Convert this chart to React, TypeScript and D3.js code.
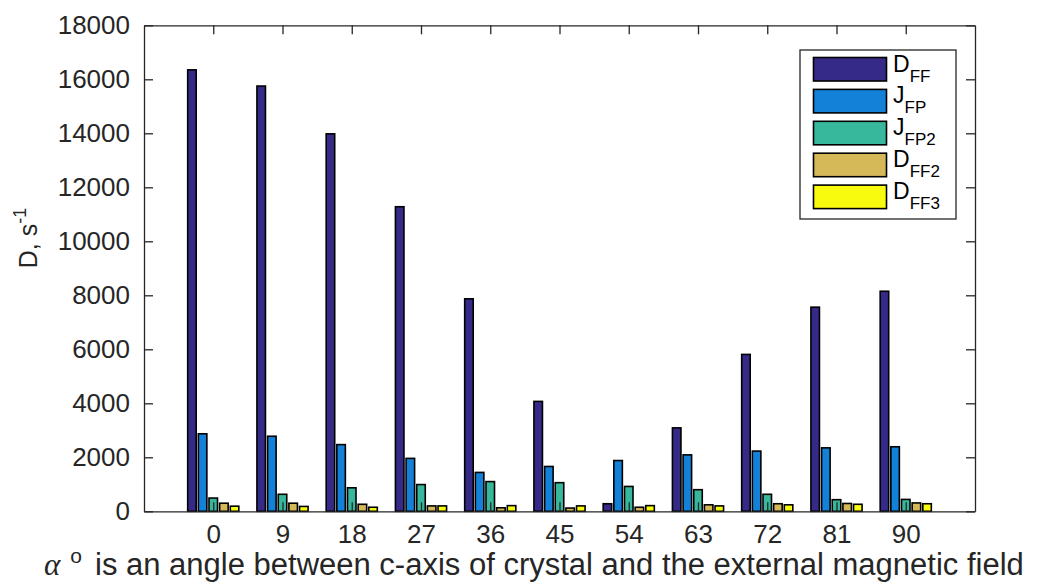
import React, { useEffect, useRef } from "react";
import * as d3 from "d3";

// angle alpha, degrees
const categories = [0, 9, 18, 27, 36, 45, 54, 63, 72, 81, 90];

const dFF = [16350, 15750, 13980, 11280, 7870, 4070, 280, 3090, 5810, 7560, 8150];
const jFP = [2870, 2780, 2470, 1960, 1440, 1660, 1880, 2090, 2230, 2350, 2390];
const jFP2 = [490, 630, 870, 990, 1100, 1060, 920, 800, 630, 430, 440];
const dFF2 = [300, 300, 260, 200, 130, 120, 150, 240, 280, 290, 310];
const dFF3 = [190, 180, 150, 200, 210, 200, 210, 200, 240, 260, 280];

const seriesNames = [
  { main: "D", sub: "FF" },
  { main: "J", sub: "FP" },
  { main: "J", sub: "FP2" },
  { main: "D", sub: "FF2" },
  { main: "D", sub: "FF3" },
];
const seriesColors = ["#352a87", "#1381d7", "#37b89c", "#d5b858", "#f9fb0e"];
const yTicks = [0, 2000, 4000, 6000, 8000, 10000, 12000, 14000, 16000, 18000];

const W = 1048;
const H = 584;
const margin = { top: 25.3, right: 73, bottom: 72.7, left: 144 };
const FONT = "'Liberation Sans', Arial, Helvetica, sans-serif";
const AXIS = "#262626";

const App = () => {
  const ref = useRef<SVGSVGElement | null>(null);

  useEffect(() => {
    const svg = d3.select(ref.current);
    svg.selectAll("*").remove();

    const series = [dFF, jFP, jFP2, dFF2, dFF3];
    const x = d3.scaleLinear().domain([0, 12]).range([margin.left, W - margin.right]);
    const y = d3.scaleLinear().domain([0, 18000]).range([H - margin.bottom, margin.top]);

    // matlab style grouped bars
    const groupWidth = Math.min(0.8, series.length / (series.length + 1.5));
    const slot = groupWidth / series.length;
    const barW = slot * 0.8;

    const bars = svg.append("g");
    series.forEach((vals, s) => {
      const off = -groupWidth / 2 + slot * (s + 0.5);
      bars
        .selectAll(`rect.s${s}`)
        .data(vals)
        .join("rect")
        .attr("class", `s${s}`)
        .attr("x", (_, i) => x(i + 1 + off - barW / 2))
        .attr("width", x(barW) - x(0))
        .attr("y", (d) => y(d))
        .attr("height", (d) => y(0) - y(d))
        .attr("fill", seriesColors[s])
        .attr("stroke", "#000")
        .attr("stroke-width", 1.6);
    });

    // axes, ticks pointing inward
    const idx = d3.range(1, categories.length + 1);
    const styleAxis = (g: any) => {
      g.select(".domain").attr("stroke", AXIS).attr("stroke-width", 1.3);
      g.selectAll(".tick line").attr("stroke", AXIS).attr("stroke-width", 1.3);
      g.selectAll("text").attr("fill", AXIS).attr("font-family", FONT).attr("font-size", 26);
    };

    svg.append("g")
      .attr("transform", `translate(0,${y(0)})`)
      .call(d3.axisBottom(x).tickValues(idx).tickSize(-9).tickSizeOuter(0).tickPadding(13)
        .tickFormat((d: any) => String(categories[d - 1])))
      .call(styleAxis);
    svg.append("g")
      .attr("transform", `translate(0,${y(18000)})`)
      .call(d3.axisTop(x).tickValues(idx).tickSize(-9).tickSizeOuter(0).tickFormat(() => ""))
      .call(styleAxis);
    svg.append("g")
      .attr("transform", `translate(${x(0)},0)`)
      .call(d3.axisLeft(y).tickValues(yTicks).tickSize(-9).tickSizeOuter(0).tickPadding(14)
        .tickFormat(d3.format("d")))
      .call(styleAxis);
    svg.append("g")
      .attr("transform", `translate(${x(12)},0)`)
      .call(d3.axisRight(y).tickValues(yTicks).tickSize(-9).tickSizeOuter(0).tickFormat(() => ""))
      .call(styleAxis);

    // y label
    const yl = svg.append("text")
      .attr("transform", `translate(37,${238}) rotate(-90)`)
      .attr("text-anchor", "middle")
      .attr("font-family", FONT)
      .attr("font-size", 25)
      .attr("fill", AXIS);
    yl.append("tspan").text("D, s");
    yl.append("tspan").attr("dy", -11).attr("font-size", 18).text("-1");

    // x label
    const xl = svg.append("text")
      .attr("x", 44)
      .attr("y", 575)
      .attr("font-family", FONT)
      .attr("font-size", 31)
      .attr("fill", AXIS);
    xl.append("tspan").attr("font-family", "'Liberation Serif', 'DejaVu Serif', serif")
      .attr("font-style", "italic").text("α");
    xl.append("tspan").attr("dx", 10).attr("dy", -12).attr("font-size", 21).text("o");
    xl.append("tspan").attr("x", 95).attr("dy", 12)
      .text("is an angle between c-axis of crystal and the external magnetic field");

    // legend
    const lg = svg.append("g");
    lg.append("rect")
      .attr("x", 800).attr("y", 50).attr("width", 156).attr("height", 169)
      .attr("fill", "#fff").attr("stroke", AXIS).attr("stroke-width", 1.3);
    seriesNames.forEach((n, i) => {
      const top = 57.5 + i * 31.9;
      lg.append("rect")
        .attr("x", 813.5).attr("y", top).attr("width", 73).attr("height", 23.5)
        .attr("fill", seriesColors[i]).attr("stroke", "#000").attr("stroke-width", 1.6);
      const t = lg.append("text")
        .attr("x", 893).attr("y", top + 14)
        .attr("font-family", FONT).attr("font-size", 23).attr("fill", "#000");
      t.append("tspan").text(n.main);
      t.append("tspan").attr("dy", 10).attr("font-size", 17).text(n.sub);
    });
  }, []);

  return (
    <svg
      ref={ref}
      width={W}
      height={H}
      style={{ position: "absolute", left: 0, top: 0, background: "#fff" }}
    />
  );
};

export default App;
